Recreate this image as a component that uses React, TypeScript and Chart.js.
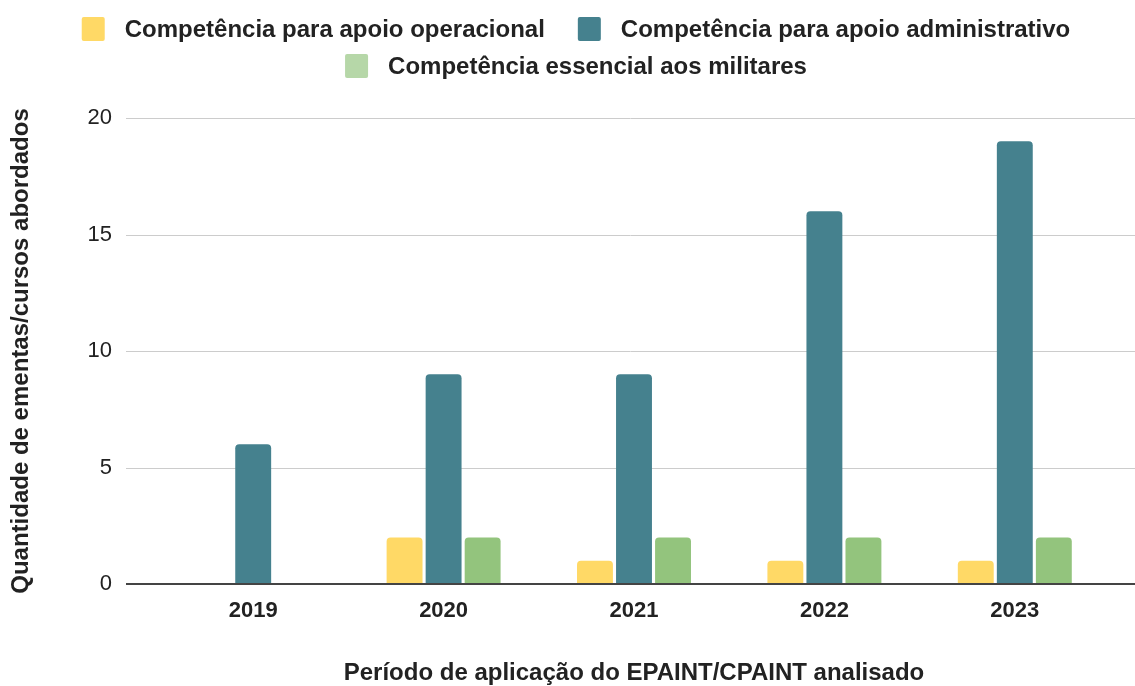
import React, { useEffect, useRef } from "react";
import { Chart, registerables } from "chart.js";

Chart.register(...registerables);

const categories = ["2019", "2020", "2021", "2022", "2023"];
const seriesNames = [
  "Competência para apoio operacional",
  "Competência para apoio administrativo",
  "Competência essencial aos militares",
];
const operacional = [0, 2, 1, 1, 1];
const administrativo = [6, 9, 9, 16, 19];
const essencial = [0, 2, 2, 2, 2];
const barColors = ["#ffd966", "#45818e", "#93c47d"];
const legendColors = ["#ffd966", "#45818e", "#b6d7a8"];
const legendRows = [[0, 1], [2]];
const yTicks = [0, 5, 10, 15, 20];

const FONT = 'Arial, "Liberation Sans", sans-serif';
const TEXT = "#222222";

const gridPlugin = {
  id: "extGrid",
  beforeDatasetsDraw(chart: any) {
    const y = chart.scales.y;
    const ctx = chart.ctx;
    ctx.save();
    ctx.strokeStyle = "#cccccc";
    ctx.lineWidth = 1;
    yTicks.forEach((v) => {
      if (v === 0) return;
      const py = Math.round(y.getPixelForValue(v)) + 0.5;
      ctx.beginPath();
      ctx.moveTo(126, py);
      ctx.lineTo(chart.width, py);
      ctx.stroke();
    });
    ctx.restore();
  },
  afterDatasetsDraw(chart: any) {
    const y = chart.scales.y;
    const ctx = chart.ctx;
    ctx.save();
    ctx.strokeStyle = "#444444";
    ctx.lineWidth = 2;
    const py = Math.round(y.getPixelForValue(0));
    ctx.beginPath();
    ctx.moveTo(126, py);
    ctx.lineTo(chart.width, py);
    ctx.stroke();
    ctx.restore();
  },
};

// Legend drawn on the canvas: two centred rows like the reference
const legendPlugin = {
  id: "customLegend",
  afterDraw(chart: any) {
    const ctx = chart.ctx;
    const boxW = 23;
    const boxH = 24;
    const textGap = 20;
    const itemGap = 33;
    const centerX = 576;
    const rowY = [29, 66];
    ctx.save();
    ctx.font = `bold 24px ${FONT}`;
    ctx.textBaseline = "middle";
    ctx.textAlign = "left";
    legendRows.forEach((row, r) => {
      const widths = row.map((i) => boxW + textGap + ctx.measureText(seriesNames[i]).width);
      const total = widths.reduce((a, b) => a + b, 0) + itemGap * (row.length - 1);
      let x = centerX - total / 2;
      row.forEach((i, k) => {
        const cy = rowY[r];
        ctx.fillStyle = legendColors[i];
        ctx.beginPath();
        (ctx as any).roundRect
          ? (ctx as any).roundRect(x, cy - boxH / 2, boxW, boxH, 2)
          : ctx.rect(x, cy - boxH / 2, boxW, boxH);
        ctx.fill();
        ctx.fillStyle = TEXT;
        ctx.fillText(seriesNames[i], x + boxW + textGap, cy + 1);
        x += widths[k] + itemGap;
      });
    });
    ctx.restore();
  },
};

export default function App() {
  const ref = useRef<HTMLCanvasElement | null>(null);
  useEffect(() => {
    if (!ref.current) return;
    const data = [operacional, administrativo, essencial];
    const chart = new Chart(ref.current, {
      type: "bar",
      data: {
        labels: categories,
        datasets: seriesNames.map((name, i) => ({
          label: name,
          data: data[i],
          backgroundColor: barColors[i],
          borderWidth: 0,
          borderRadius: { topLeft: 4, topRight: 4, bottomLeft: 0, bottomRight: 0 },
          borderSkipped: "start",
          barPercentage: 0.92,
          categoryPercentage: 0.615,
        })),
      },
      options: {
        animation: false,
        responsive: true,
        maintainAspectRatio: false,
        layout: { padding: { top: 118, left: 42, right: 25, bottom: 0 } },
        plugins: {
          tooltip: { enabled: false },
          legend: { display: false },
        },
        scales: {
          x: {
            grid: { display: false, drawTicks: false },
            border: { display: false },
            ticks: {
              color: TEXT,
              padding: 14,
              font: { family: FONT, size: 22, weight: "bold" },
            },
            title: {
              display: true,
              text: "Período de aplicação do EPAINT/CPAINT analisado",
              color: TEXT,
              font: { family: FONT, size: 24, weight: "bold" },
              padding: { top: 0, bottom: -2 },
            },
            afterFit(scale: any) {
              scale.height = 102;
            },
          },
          y: {
            min: 0,
            max: 20,
            grid: { display: false, drawTicks: false },
            border: { display: false },
            ticks: {
              stepSize: 5,
              color: TEXT,
              padding: 46,
              font: { family: FONT, size: 22 },
            },
            title: {
              display: true,
              text: "Quantidade de ementas/cursos abordados",
              color: TEXT,
              font: { family: FONT, size: 24, weight: "bold" },
              padding: { top: -35, bottom: 0 },
            },
            afterFit(scale: any) {
              scale.width = 116;
            },
          },
        },
      },
      plugins: [gridPlugin, legendPlugin],
    } as any);
    return () => chart.destroy();
  }, []);
  return (
    <div style={{ position: "absolute", left: 0, top: 0, width: 1135, height: 686, background: "#fff" }}>
      <canvas ref={ref} />
    </div>
  );
}
